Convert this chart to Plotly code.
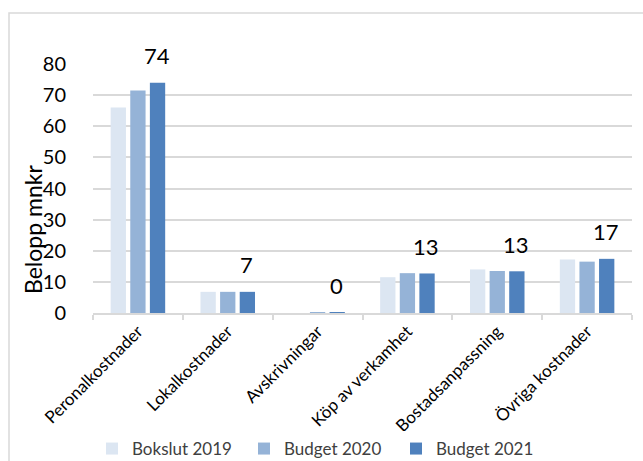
import plotly.graph_objects as go

categories = ["Peronalkostnader", "Lokalkostnader", "Avskrivningar",
              "Köp av verkamhet", "Bostadsanpassning", "Övriga kostnader"]
bokslut_2019 = [66, 6.8, 0, 11.5, 14, 17.2]
budget_2020 = [71.5, 6.8, 0.3, 12.8, 13.5, 16.5]
budget_2021 = [74, 6.8, 0.1, 12.7, 13.4, 17.4]
series_names = ["Bokslut 2019", "Budget 2020", "Budget 2021"]
colors = ["#dce6f2", "#95b3d7", "#4f81bd"]
y_ticks = [0, 10, 20, 30, 40, 50, 60, 70, 80]

FONT = "Lato, 'Open Sans', sans-serif"
L, R, T, B = 93, 632, 64, 313
PW, PH = R - L, B - T

fig = go.Figure()
for name, vals, col in zip(series_names, [bokslut_2019, budget_2020, budget_2021], colors):
    fig.add_trace(go.Bar(x=categories, y=vals, name=name, marker_color=col,
                         marker_line_width=0))

# data labels for Budget 2021
for c, v in zip(categories, budget_2021):
    fig.add_annotation(x=c, y=v, text=f"{round(v):d}", showarrow=False,
                       xref="x", yref="y", xshift=19, yshift=27,
                       font=dict(size=22, color="#000000", family=FONT))

fig.add_annotation(text="Belopp mnkr", textangle=-90, showarrow=False,
                   xref="paper", yref="paper", x=(33 - L) / PW, y=(B - 230) / PH,
                   xanchor="center", yanchor="middle",
                   font=dict(size=23, color="#000000", family=FONT))

fig.add_shape(type="rect", xref="paper", yref="paper",
              x0=(9 - L) / PW, x1=(660 - L) / PW,
              y0=(B - 13) / PH, y1=(B - 480) / PH,
              line=dict(color="#d9d9d9", width=1.5), fillcolor="rgba(0,0,0,0)", layer="below")

fig.update_layout(
    width=643, height=461,
    margin=dict(l=L, r=643 - R, t=T, b=461 - B, autoexpand=False),
    paper_bgcolor="white", plot_bgcolor="white",
    barmode="group", bargap=0.345, bargroupgap=0.22,
    font=dict(family=FONT, color="#000000"),
    showlegend=True,
    legend=dict(orientation="h", x=(92 - L) / PW, y=(B - 449) / PH, xanchor="left", yanchor="middle",
                font=dict(size=17, color="#404040"), entrywidth=107, entrywidthmode="pixels",
                traceorder="normal", itemclick=False, itemwidth=30),
    xaxis=dict(tickangle=-45, tickson="boundaries", ticks="outside", ticklen=5, automargin=False,
               tickcolor="#d9d9d9", tickwidth=1.5, showline=True, linecolor="#d9d9d9", linewidth=1.5,
               tickfont=dict(size=17, color="#000000"), showgrid=False),
    yaxis=dict(range=[0, 80], tickvals=y_ticks, showgrid=True, gridcolor="#d9d9d9", automargin=False,
               gridwidth=1.5, zeroline=False, showline=False, ticks="",
               tickfont=dict(size=20, color="#000000"), ticklabelstandoff=26),
)

fig.write_html("out.html", config={"displayModeBar": False},
               post_script="document.body.style.margin='0';document.body.style.overflow='hidden';")
